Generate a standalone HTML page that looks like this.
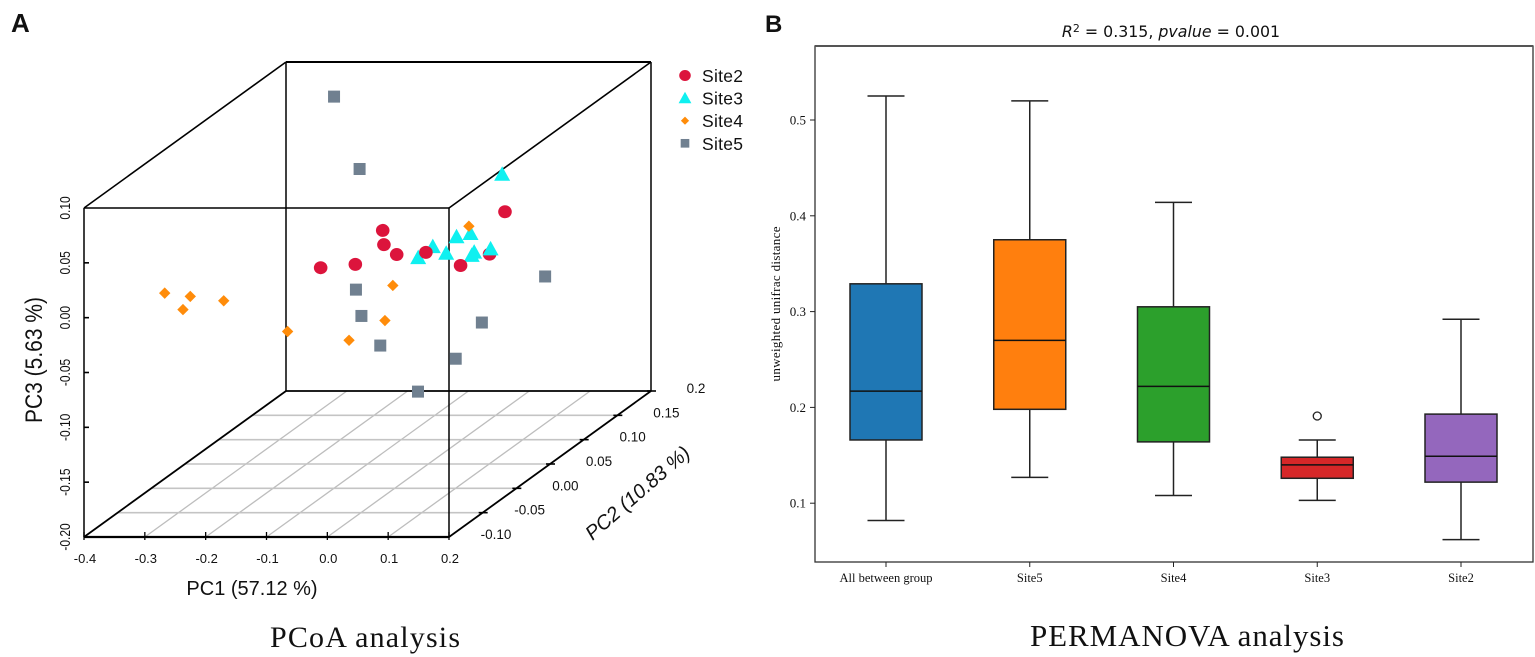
<!DOCTYPE html>
<html lang="en">
<head>
<meta charset="utf-8">
<title>PCoA and PERMANOVA analysis</title>
<style>
html,body{margin:0;padding:0;background:#fff;width:1535px;height:657px;overflow:hidden}
svg{display:block}
text{fill:#111}
.sans{font-family:"Liberation Sans",sans-serif}
.serif{font-family:"Liberation Serif",serif}
.dj{font-family:"DejaVu Sans",sans-serif}
</style>
</head>
<body>
<svg id="fig" xmlns="http://www.w3.org/2000/svg" width="1535" height="657" viewBox="0 0 1535 657">
  <rect width="1535" height="657" fill="#fff"/>
  <g id="panelA">
    <text class="sans" x="11" y="32" font-size="26" font-weight="bold">A</text>
    <text class="sans" x="252" y="595" font-size="20" text-anchor="middle">PC1 (57.12 %)</text>
    <text class="sans" font-size="20" font-style="italic" text-anchor="middle" transform="translate(642,498) rotate(-41)">PC2 (10.83 %)</text>
    <text class="sans" font-size="21" text-anchor="middle" transform="translate(42,360) rotate(-90) scale(1,1.15)">PC3 (5.63 %)</text>
    <text class="serif" x="270" y="647" font-size="30" textLength="190" lengthAdjust="spacing">PCoA analysis</text>
  </g>
  <g id="panelB">
    <text class="sans" x="765" y="32" font-size="24" font-weight="bold">B</text>
    <text class="dj" x="1171" y="37" font-size="15.8" text-anchor="middle"><tspan font-style="italic">R</tspan><tspan font-size="11" dy="-5">2</tspan><tspan dy="5"> = 0.315, </tspan><tspan font-style="italic">pvalue</tspan><tspan> = 0.001</tspan></text>
    <text class="serif" font-size="13" text-anchor="middle" textLength="155" transform="translate(780,304) rotate(-90)">unweighted unifrac distance</text>
    <text class="serif" x="1030" y="646" font-size="31" textLength="314" lengthAdjust="spacing">PERMANOVA analysis</text>
  </g>
</svg>
<script>
// ---------- Panel A data (PCoA) ----------
const pc1Ticks = ["-0.4","-0.3","-0.2","-0.1","0.0","0.1","0.2"];
const pc2Ticks = ["-0.10","-0.05","0.00","0.05","0.10","0.15","0.2"];
const pc3Ticks = ["-0.20","-0.15","-0.10","-0.05","0.00","0.05","0.10"];

const site2Pc1 = [-0.177,-0.120,-0.075,-0.073,-0.052,-0.004,0.053,-0.010,0.126];
const site2Pc2 = [0.05,0.05,0.05,0.05,0.05,0.05,0.05,0.15,0.05];
const site2Pc3 = [-0.021,-0.018,0.013,0.000,-0.009,-0.007,-0.019,-0.053,0.030];

const site3Pc1 = [0.066,0.014,-0.009,-0.048,-0.026,-0.072,0.020,0.016,0.047];
const site3Pc2 = [0.10,0.10,0.10,0.10,0.10,0.10,0.10,0.10,0.10];
const site3Pc3 = [0.042,-0.012,-0.015,-0.024,-0.030,-0.034,-0.029,-0.032,-0.026];

const site4Pc1 = [-0.378,-0.336,-0.281,-0.348,-0.176,-0.075,-0.003,-0.016,0.122];
const site4Pc2 = [0.00,0.00,0.00,0.00,0.00,0.00,0.00,0.00,0.00];
const site4Pc3 = [-0.022,-0.025,-0.029,-0.037,-0.057,-0.065,-0.015,-0.047,0.039];

const site5Pc1 = [-0.155,-0.113,-0.119,-0.110,0.088,0.192,-0.079,0.045,-0.017];
const site5Pc2 = [0.05,0.05,0.05,0.05,0.05,0.05,0.05,0.05,0.05];
const site5Pc3 = [0.135,0.069,-0.041,-0.065,-0.071,-0.029,-0.092,-0.104,-0.134];

const legendNames = ["Site2","Site3","Site4","Site5"];

// ---------- Panel B data (PERMANOVA box plot) ----------
const boxCategories = ["All between group","Site5","Site4","Site3","Site2"];
const boxWhiskerHigh = [0.525,0.520,0.414,0.166,0.292];
const boxQ3 = [0.329,0.375,0.305,0.148,0.193];
const boxMedian = [0.217,0.270,0.222,0.140,0.149];
const boxQ1 = [0.166,0.198,0.164,0.126,0.122];
const boxWhiskerLow = [0.082,0.127,0.108,0.103,0.062];
const boxOutlierGroup = ["Site3"];
const boxOutlierValue = [0.191];
const boxColors = ["#1f77b4","#ff7f0e","#2ca02c","#d62728","#9467bd"];
const boxYTicks = ["0.1","0.2","0.3","0.4","0.5"];

const NS = "http://www.w3.org/2000/svg";
function add(parent, tag, attrs, txt) {
  const el = document.createElementNS(NS, tag);
  for (const k in attrs) el.setAttribute(k, attrs[k]);
  if (txt !== undefined) el.textContent = txt;
  parent.appendChild(el);
  return el;
}

// ---------- Panel A axes: oblique 3D projection ----------
const A = document.getElementById("panelA");
const a0 = {x: 84, y: 537};
const pc1Range = [-0.4, 0.2], pc2Range = [-0.1, 0.2], pc3Range = [-0.2, 0.1];
const pc1Span = 365, pc3Span = 329, pc2Dx = 202, pc2Dy = -146;
function proj(p1, p2, p3) {
  const u = (p1 - pc1Range[0]) / (pc1Range[1] - pc1Range[0]);
  const v = (p2 - pc2Range[0]) / (pc2Range[1] - pc2Range[0]);
  const w = (p3 - pc3Range[0]) / (pc3Range[1] - pc3Range[0]);
  return {x: a0.x + u * pc1Span + v * pc2Dx, y: a0.y - w * pc3Span + v * pc2Dy};
}
function seg(parent, a, b, stroke, width) {
  return add(parent, "line", {x1: a.x, y1: a.y, x2: b.x, y2: b.y, stroke: stroke, "stroke-width": width});
}
const [x0, x1] = pc1Range, [y0, y1] = pc2Range, [z0, z1] = pc3Range;

// floor grid
pc1Ticks.map(Number).slice(1, -1).forEach(function (t) {
  const g = seg(A, proj(t, y0, z0), proj(t, y1, z0), "#bdbdbd", 1.3);
  
  
});
pc2Ticks.map(Number).slice(1, -1).forEach(function (t) {
  const g = seg(A, proj(x0, t, z0), proj(x1, t, z0), "#c4c4c4", 1.6);
  
  
});

// cube edges
const cubeEdges = [
  [[x0,y0,z0],[x1,y0,z0],2.2],[[x0,y0,z0],[x0,y1,z0],1.8],[[x1,y0,z0],[x1,y1,z0],1.8],[[x0,y1,z0],[x1,y1,z0],1.8],
  [[x0,y0,z0],[x0,y0,z1],1.5],[[x1,y0,z0],[x1,y0,z1],1.5],[[x0,y0,z1],[x1,y0,z1],1.5],
  [[x0,y1,z0],[x0,y1,z1],1.5],[[x1,y1,z0],[x1,y1,z1],1.5],[[x0,y1,z1],[x1,y1,z1],2],
  [[x0,y0,z1],[x0,y1,z1],1.6],[[x1,y0,z1],[x1,y1,z1],1.6]
];
cubeEdges.forEach(function (e) {
  const l = seg(A, proj.apply(null, e[0]), proj.apply(null, e[1]), "#000", e[2]);
  
  
});

// PC1 ticks
pc1Ticks.forEach(function (lab) {
  const p = proj(Number(lab), y0, z0);
  const tk = add(A, "line", {x1: p.x, y1: p.y - 5, x2: p.x, y2: p.y + 3, stroke: "#000", "stroke-width": 1.3});
  
  
  const tx = add(A, "text", {x: p.x + 1, y: p.y + 26, "font-size": 13, "text-anchor": "middle", "class": "sans"}, lab);
  
  
});
// PC2 ticks
pc2Ticks.forEach(function (lab) {
  const val = Number(lab);
  const p = proj(x1, val, z0);
  if (val > y0) {
    const tk = add(A, "line", {x1: p.x - 4, y1: p.y, x2: p.x + 5, y2: p.y, stroke: "#000", "stroke-width": 1.6});
    
    
  }
  const dx = val >= y1 ? 45 : (val <= -0.05 ? 47 : 49);
  const tx = add(A, "text", {x: p.x + dx, y: p.y + 2, "font-size": 13.5, "text-anchor": "middle", "class": "sans"}, lab);
  
  
});
// PC3 ticks
pc3Ticks.forEach(function (lab) {
  const val = Number(lab);
  const p = proj(x0, y0, val);
  if (val > z0 && val < z1) {
    const tk = add(A, "line", {x1: p.x, y1: p.y, x2: p.x + 5, y2: p.y, stroke: "#000", "stroke-width": 1.6});
    
    
  }
  const tx = add(A, "text", {"font-size": 12, "text-anchor": "middle", "class": "sans",
    transform: "translate(" + (p.x - 14) + "," + p.y + ") rotate(-90) scale(1,1.25)"}, lab);
  
  
});

// markers
function drawMarker(parent, kind, cx, cy, k) {
  if (kind === "circle") return add(parent, "ellipse", {cx: cx, cy: cy, rx: 6.8 * k, ry: 6.5 * k, fill: "#dc143c"});
  if (kind === "triangle") return add(parent, "polygon", {points: [cx, cy - 8 * k, cx + 8 * k, cy + 6.5 * k, cx - 8 * k, cy + 6.5 * k].join(","), fill: "#0ff0f0"});
  if (kind === "diamond") return add(parent, "polygon", {points: [cx, cy - 5.7 * k, cx + 5.7 * k, cy, cx, cy + 5.7 * k, cx - 5.7 * k, cy].join(","), fill: "#ff8c0a"});
  return add(parent, "rect", {x: cx - 6 * k, y: cy - 6 * k, width: 12 * k, height: 12 * k, fill: "#708090"});
}
// all points are painted far-to-near along PC2 so overlaps read correctly
const allPoints = [];
function collectSeries(kind, name, xs, ys, zs) {
  xs.forEach(function (v, i) {
    allPoints.push({kind: kind, name: name, pc1: v, pc2: ys[i], pc3: zs[i]});
  });
}
collectSeries("circle", "site2", site2Pc1, site2Pc2, site2Pc3);
collectSeries("triangle", "site3", site3Pc1, site3Pc2, site3Pc3);
collectSeries("diamond", "site4", site4Pc1, site4Pc2, site4Pc3);
collectSeries("square", "site5", site5Pc1, site5Pc2, site5Pc3);
allPoints.sort(function (a, b) { return b.pc2 - a.pc2; });
const pointLayer = add(A, "g", {});


allPoints.forEach(function (d) {
  const p = proj(d.pc1, d.pc2, d.pc3);
  const m = drawMarker(pointLayer, d.kind, p.x, p.y, 1);
  
  
});

// legend
const legendKinds = ["circle", "triangle", "diamond", "square"];
legendNames.forEach(function (n, i) {
  const ly = 75.5 + i * 22.6;
  const m = drawMarker(A, legendKinds[i], 685, ly, i === 0 ? 0.85 : (i === 1 ? 0.8 : 0.72));
  
  
  const t = add(A, "text", {x: 702, y: ly + 6.5, "font-size": 17.5, "class": "sans", textLength: 41}, n);
  
  
});

// ---------- Panel B axes ----------
const B = document.getElementById("panelB");
const frame = {l: 815, t: 46, r: 1533, b: 562};
function yScale(v) { return 120 + (0.5 - v) * 958; }
function xScale(i) { return 886 + i * 143.75; }

const fr = add(B, "rect", {x: frame.l, y: frame.t, width: frame.r - frame.l, height: frame.b - frame.t, fill: "none", stroke: "#333", "stroke-width": 1.3});


const frTop = add(B, "line", {x1: frame.l, x2: frame.r, y1: frame.t, y2: frame.t, stroke: "#555", "stroke-width": 2});



boxYTicks.forEach(function (lab) {
  const y = yScale(Number(lab));
  const tk = add(B, "line", {x1: frame.l - 5, y1: y, x2: frame.l, y2: y, stroke: "#222", "stroke-width": 1});
  
  
  const tx = add(B, "text", {x: frame.l - 9, y: y + 4.5, "font-size": 13, "text-anchor": "end", "class": "serif"}, lab);
  
  
});

boxCategories.forEach(function (cat, i) {
  const cx = xScale(i);
  const g = add(B, "g", {});
  
  
  const stroke = "#222";
  const whiskUp = add(g, "line", {x1: cx, x2: cx, y1: yScale(boxWhiskerHigh[i]), y2: yScale(boxQ3[i]), stroke: stroke, "stroke-width": 1.5});
  
  
  const whiskLow = add(g, "line", {x1: cx, x2: cx, y1: yScale(boxQ1[i]), y2: yScale(boxWhiskerLow[i]), stroke: stroke, "stroke-width": 1.5});
  
  
  const capUp = add(g, "line", {x1: cx - 18.5, x2: cx + 18.5, y1: yScale(boxWhiskerHigh[i]), y2: yScale(boxWhiskerHigh[i]), stroke: stroke, "stroke-width": 1.5});
  
  
  const capLow = add(g, "line", {x1: cx - 18.5, x2: cx + 18.5, y1: yScale(boxWhiskerLow[i]), y2: yScale(boxWhiskerLow[i]), stroke: stroke, "stroke-width": 1.5});
  
  
  const rect = add(g, "rect", {x: cx - 36, y: yScale(boxQ3[i]), width: 72, height: yScale(boxQ1[i]) - yScale(boxQ3[i]), fill: boxColors[i], stroke: stroke, "stroke-width": 1.5});
  
  
  const med = add(g, "line", {x1: cx - 36, x2: cx + 36, y1: yScale(boxMedian[i]), y2: yScale(boxMedian[i]), stroke: "#111", "stroke-width": 1.5});
  
  
  const oi = boxOutlierGroup.indexOf(cat);
  if (oi >= 0) {
    const o = add(g, "circle", {cx: cx, cy: yScale(boxOutlierValue[oi]), r: 4, fill: "#fff", stroke: stroke, "stroke-width": 1.3});
    
    
  }
  const tk = add(B, "line", {x1: cx, x2: cx, y1: frame.b, y2: frame.b + 5, stroke: "#222", "stroke-width": 1});
  
  
  const tx = add(B, "text", {x: cx, y: 582, "font-size": 12.5, "text-anchor": "middle", "class": "serif"}, cat);
  
  
});
</script>
</body>
</html>
